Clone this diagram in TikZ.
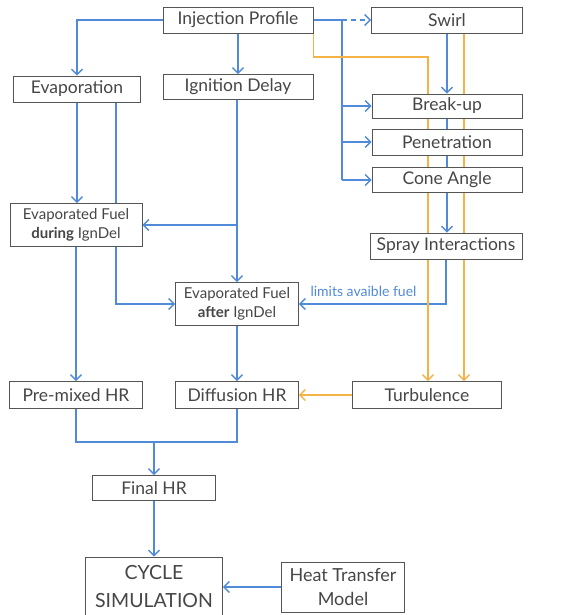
\documentclass[tikz,border=0pt]{standalone}
\usepackage{fontspec}
\setmainfont{Lato}
\usetikzlibrary{arrows.meta,backgrounds}
\definecolor{lineblue}{RGB}{80,138,216}
\definecolor{lineorange}{RGB}{245,178,70}
\definecolor{boxgray}{RGB}{85,85,85}
\definecolor{txtgray}{RGB}{70,70,70}
\begin{document}
\begin{tikzpicture}[x=1pt,y=-1pt,
  box/.style={draw=boxgray,fill=white,line width=0.9pt,inner sep=0pt,
    text=txtgray,font=\fontsize{17.5}{19}\selectfont,align=center},
  small/.style={font=\fontsize{15}{19}\selectfont},
  blueline/.style={draw=lineblue,line width=1.3pt},
  orangeline/.style={draw=lineorange,line width=1.3pt},
  tip/.style={-{Straight Barb[length=5.5pt,width=11pt]}}]
\useasboundingbox (0,0) rectangle (570,615);
% the boxes
\node[box,minimum width=150,minimum height=26] (inj) at (238,20) {Injection Profile};
\node[box,minimum width=151,minimum height=26] (swirl) at (447,20) {Swirl};
\node[box,minimum width=127,minimum height=26] (evap) at (77,89) {Evaporation};
\node[box,minimum width=150,minimum height=25] (ign) at (238,87) {Ignition Delay};
\node[box,minimum width=150,minimum height=24] (breakup) at (447,106) {Break-up};
\node[box,minimum width=150,minimum height=26] (pen) at (447,142) {Penetration};
\node[box,minimum width=150,minimum height=25] (cone) at (447,180) {Cone Angle};
\node[box,small,minimum width=132,minimum height=43] (during) at (76,225) {Evaporated Fuel\\\textbf{during} IgnDel};
\node[box,minimum width=152,minimum height=26] (spray) at (446,246) {Spray Interactions};
\node[box,small,minimum width=123,minimum height=43] (after) at (237,304) {Evaporated Fuel\\\textbf{after} IgnDel};
\node[box,minimum width=133,minimum height=27] (premix) at (76,395) {Pre-mixed HR};
\node[box,minimum width=123,minimum height=27] (diff) at (237,395) {Diffusion HR};
\node[box,minimum width=149,minimum height=27] (turb) at (427,395) {Turbulence};
\node[box,minimum width=123,minimum height=25] (final) at (154,488) {Final HR};
\node[box,minimum width=137,minimum height=60,font=\fontsize{19.5}{28}\selectfont] (cycle) at (154,587) {CYCLE\\SIMULATION};
\node[box,minimum width=123,minimum height=50,font=\fontsize{18}{24}\selectfont] (heat) at (343,587) {Heat Transfer\\Model};
\begin{scope}[on background layer]
% the injection profile lines
\coordinate (split) at (342,20);
\coordinate (okink) at (428,57);
\draw[blueline,tip] (inj.west) -| (evap.north);
\draw[blueline,tip] (inj.south) -- (ign.north);
\draw[blueline] (inj.east) -- (split);
\draw[blueline,dash pattern=on 5pt off 4pt,tip] (split) -- (swirl.west);
\draw[blueline] (split) -- (split |- cone.west);
\foreach \b in {breakup,pen,cone} {
\draw[blueline,tip] (split |- \b.west) -- (\b.west);
}
% swirl and spray
\draw[blueline,tip] (swirl.south) -- (breakup.north);
\draw[blueline] (breakup.south) -- (pen.north);
\draw[blueline] (pen.south) -- (cone.north);
\draw[blueline,tip] (cone.south) -- (cone.south |- spray.north);
\draw[blueline,tip] (spray.south) |- (after.east)
  node[pos=0.75,above=3pt,xshift=-9pt,text=lineblue,font=\fontsize{14}{16}\selectfont] (limits) {limits avaible fuel};
% orange lines -- turbulence
\draw[orangeline,tip] (inj.south east) |- (okink) -- (okink |- turb.north);
\draw[orangeline,tip] ([xshift=17]swirl.south) -- ([xshift=17]swirl.south |- turb.north);
\draw[orangeline,tip] (turb.west) -- (diff.east);
% evaporation and ignition delay
\coordinate (ibranch) at (after.north |- during.east);
\draw[blueline,tip] (evap.south) -- (evap.south |- during.north);
\draw[blueline,tip] ([xshift=39]evap.south) |- (after.west);
\draw[blueline,tip] (ign.south -| after.north) -- (after.north);
\draw[blueline,tip] (ibranch) -- (during.east);
\draw[blueline,tip] (during.south) -- (premix.north);
\draw[blueline,tip] (after.south) -- (diff.north);
% heat release
\coordinate (join) at (154,442);
\draw[blueline] (premix.south) |- (join) -| (diff.south);
\draw[blueline,tip] (join) -- (final.north);
\draw[blueline,tip] (final.south) -- (cycle.north);
\draw[blueline,tip] (heat.west) -- (cycle.east);
\end{scope}
\end{tikzpicture}
\end{document}
